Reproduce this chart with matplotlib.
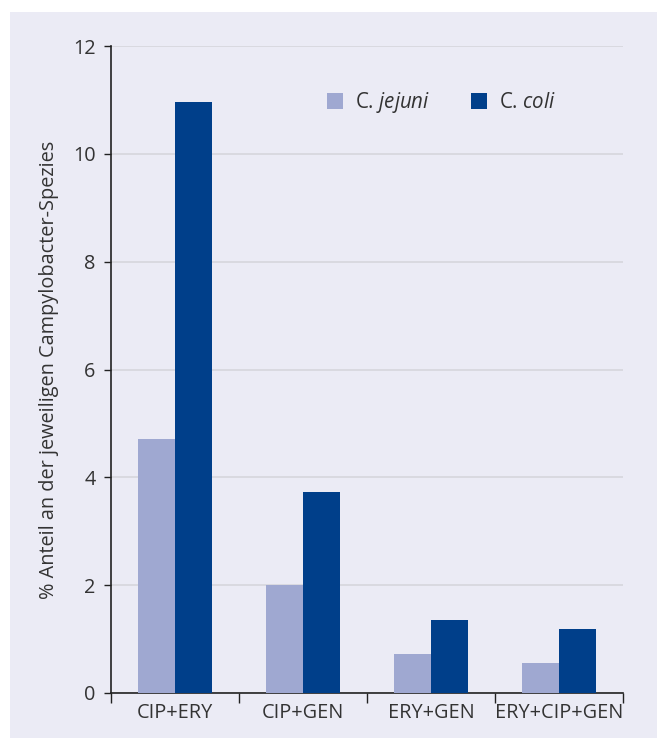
import matplotlib
matplotlib.use("Agg")
import matplotlib.pyplot as plt
from matplotlib.patches import Rectangle
import numpy as np

categories = ["CIP+ERY", "CIP+GEN", "ERY+GEN", "ERY+CIP+GEN"]
jejuni = [4.72, 2.0, 0.73, 0.55]
coli = [10.97, 3.72, 1.35, 1.18]
yticks = [0, 2, 4, 6, 8, 10, 12]

plt.rcParams['font.family'] = ['Open Sans', 'DejaVu Sans']
plt.rcParams['mathtext.fontset'] = 'custom'
plt.rcParams['mathtext.rm'] = 'Open Sans'
plt.rcParams['mathtext.it'] = 'Open Sans:italic'

W, H = 657, 738
fig = plt.figure(figsize=(W/100, H/100), dpi=100)
fig.patch.set_facecolor('white')
bg = '#EBEBF5'
fig.patches.append(Rectangle((10/W, 0), 1 - 10/W, (H-12)/H, transform=fig.transFigure,
                             facecolor=bg, edgecolor='none', zorder=-10))

ax = fig.add_axes([111/W, (H-693)/H, (623-111)/W, (693-46)/H])
ax.set_zorder(1)
ax.patch.set_alpha(0)

x = np.arange(len(categories))
bw = 0.29
c_j = '#9FA8D1'
c_c = '#003F8A'
txt = '#333333'
fs = 14.3
ax.bar(x - bw/2, jejuni, bw, color=c_j, label=r"C. $\mathit{jejuni}$", zorder=3)
ax.bar(x + bw/2, coli, bw, color=c_c, label=r"C. $\mathit{coli}$", zorder=3)

ax.set_xlim(-0.5, len(categories) - 0.5)
ax.set_ylim(0, 12)
ax.set_yticks(yticks)
ax.set_yticklabels([str(v) for v in yticks], fontsize=fs, color=txt)
ax.yaxis.grid(True, color='#D6D6DC', linewidth=1.2, zorder=0)
ax.set_axisbelow(True)

ax.set_xticks(np.arange(len(categories) + 1) - 0.5)
ax.set_xticklabels([])
ax.set_xticks(x, minor=True)
ax.set_xticklabels(categories, minor=True, fontsize=fs, color=txt)
ax.tick_params(axis='x', which='major', length=7, width=1, color='#222222', direction='out')
ax.tick_params(axis='x', which='minor', length=0, pad=7)
ax.tick_params(axis='y', length=5, width=1, color='#222222', pad=6)

for s in ['top', 'right']:
    ax.spines[s].set_visible(False)
for s in ['left', 'bottom']:
    ax.spines[s].set_color('#222222')
    ax.spines[s].set_linewidth(1.2)

ax.set_ylabel("% Anteil an der jeweiligen Campylobacter-Spezies", fontsize=fs,
              color=txt, labelpad=10)

ax.legend(loc='center', bbox_to_anchor=(0.645, 0.912), ncol=2, frameon=False,
          fontsize=fs + 0.5, handlelength=0.8, handleheight=0.8, handletextpad=0.55,
          columnspacing=2.0, labelcolor=txt)

fig.savefig("out.png", dpi=100, facecolor='white')
